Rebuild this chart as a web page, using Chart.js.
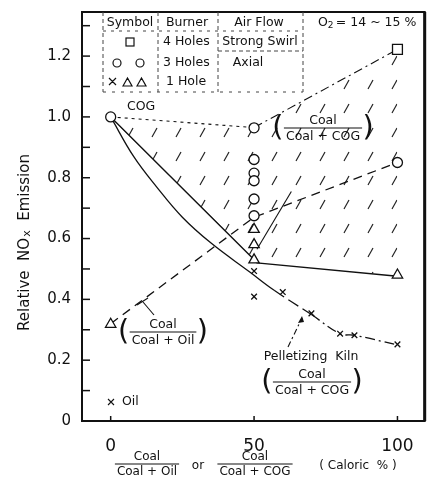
<!DOCTYPE html>
<html>
<head>
<meta charset="utf-8">
<script src="https://cdn.jsdelivr.net/npm/chart.js@4.4.0/dist/chart.umd.min.js"></script>
<style>
  html, body { margin: 0; padding: 0; background: #fff; }
</style>
</head>
<body>
<canvas id="chart" width="433" height="481"></canvas>
<script>
// Relative NOx emission vs coal share (caloric %)
const xTicks = [0, 50, 100];
const yTicks = [0, 0.2, 0.4, 0.6, 0.8, 1.0, 1.2];

// envelope of the coal + COG runs (hatched band)
const cogUpper = [{x: 0, y: 1.0}, {x: 50, y: 0.965}, {x: 100, y: 1.222}];
const cogLower = [{x: 0, y: 1.0}, {x: 49, y: 0.54}, {x: 51, y: 0.52}, {x: 100, y: 0.476}];

// coal + oil line on to the 3-hole axial point
const oilLine = [{x: 0, y: 0.32}, {x: 50, y: 0.67}, {x: 100, y: 0.85}];
const steepLine = [{x: 51, y: 0.565}, {x: 63, y: 0.755}];

// pelletizing kiln curve
const kilnCurve = [
  {x: 0, y: 1.0}, {x: 8, y: 0.87}, {x: 16, y: 0.77}, {x: 25, y: 0.67},
  {x: 35, y: 0.585}, {x: 48.5, y: 0.49}, {x: 57, y: 0.43}, {x: 70, y: 0.35},
  {x: 80, y: 0.287}, {x: 85, y: 0.282}, {x: 100, y: 0.25}
];

// measured points
const squares = [{x: 100, y: 1.222}];
const circles = [
  {x: 0, y: 1.0}, {x: 50, y: 0.964}, {x: 50, y: 0.86}, {x: 50, y: 0.815},
  {x: 50, y: 0.79}, {x: 50, y: 0.73}, {x: 50, y: 0.675}, {x: 100, y: 0.85}
];
const triangles = [
  {x: 0, y: 0.318}, {x: 50, y: 0.63}, {x: 50, y: 0.58}, {x: 50, y: 0.53}, {x: 100, y: 0.48}
];
const crosses = [
  {x: 50, y: 0.493}, {x: 50, y: 0.409}, {x: 60, y: 0.424}, {x: 70, y: 0.354},
  {x: 80, y: 0.287}, {x: 85, y: 0.282}, {x: 100, y: 0.252}
];

const INK = '#111';
const FONT = '"DejaVu Sans", "Liberation Sans", sans-serif';

// sparse slash hatching for the COG band
function makeHatch() {
    const c = document.createElement('canvas');
    c.width = 24; c.height = 24;
    const g = c.getContext('2d');
    g.strokeStyle = '#222';
    g.lineWidth = 1.2;
    g.beginPath();
    g.moveTo(8, 17);
    g.lineTo(13, 8);
    g.stroke();
    return g.createPattern(c, 'repeat');
}

function pts(data, style, radius) {
    return {
        data: data, showLine: false, pointStyle: style, pointRadius: radius,
        pointHoverRadius: radius, borderColor: INK, backgroundColor: '#fff',
        pointBorderWidth: 1.3
    };
}

function line(data, dash, width) {
    return {
        data: data, showLine: true, pointRadius: 0, borderColor: INK,
        borderWidth: width || 1.3, borderDash: dash || [], fill: false, tension: 0
    };
}

// fraction like  Coal / Coal + COG, optional parentheses
function fraction(ctx, cx, cy, num, den, size, parens) {
    ctx.save();
    ctx.font = size + 'px ' + FONT;
    ctx.textAlign = 'center';
    ctx.textBaseline = 'middle';
    const w = Math.max(ctx.measureText(num).width, ctx.measureText(den).width) + 4;
    ctx.fillText(num, cx, cy - size * 0.62);
    ctx.fillText(den, cx, cy + size * 0.68);
    ctx.lineWidth = 1.2;
    ctx.beginPath();
    ctx.moveTo(cx - w / 2, cy);
    ctx.lineTo(cx + w / 2, cy);
    ctx.stroke();
    if (parens) {
        ctx.font = (size * 2.3) + 'px ' + FONT;
        ctx.fillText('(', cx - w / 2 - 6, cy + 1);
        ctx.fillText(')', cx + w / 2 + 6, cy + 1);
    }
    ctx.restore();
}

function dashed(ctx, x1, y1, x2, y2, dash) {
    ctx.setLineDash(dash || [4, 3]);
    ctx.beginPath();
    ctx.moveTo(x1, y1);
    ctx.lineTo(x2, y2);
    ctx.stroke();
    ctx.setLineDash([]);
}

const decor = {
    id: 'decor',
    afterDraw(chart) {
        const ctx = chart.ctx;
        const a = chart.chartArea;
        const xs = chart.scales.x, ys = chart.scales.y;
        ctx.save();
        ctx.strokeStyle = INK;
        ctx.fillStyle = INK;

        // frame
        ctx.lineWidth = 2;
        ctx.strokeRect(a.left, a.top, a.right - a.left, a.bottom - a.top);
        ctx.lineWidth = 3;
        ctx.beginPath(); ctx.moveTo(a.right, a.top); ctx.lineTo(a.right, a.bottom); ctx.stroke();

        // inward ticks
        ctx.lineWidth = 1.5;
        for (let v = 0.1; v < 1.34; v += 0.1) {
            const py = ys.getPixelForValue(v);
            ctx.beginPath(); ctx.moveTo(a.left, py); ctx.lineTo(a.left + 8, py); ctx.stroke();
        }
        xTicks.forEach(v => {
            const px = xs.getPixelForValue(v);
            ctx.beginPath(); ctx.moveTo(px, a.bottom); ctx.lineTo(px, a.bottom - 5); ctx.stroke();
        });

        // symbol table
        ctx.lineWidth = 1;
        ctx.strokeStyle = '#444';
        dashed(ctx, 103, 12, 103, 92);
        dashed(ctx, 158, 12, 158, 92);
        dashed(ctx, 218, 12, 218, 92);
        dashed(ctx, 303, 12, 303, 92);
        dashed(ctx, 103, 31, 303, 31, [3, 5]);
        dashed(ctx, 218, 51, 303, 51);
        dashed(ctx, 103, 92, 303, 92, [3, 6]);
        ctx.strokeStyle = INK;

        ctx.font = '12.5px ' + FONT;
        ctx.textBaseline = 'middle';
        ctx.textAlign = 'center';
        ctx.fillText('Symbol', 130, 23);
        ctx.fillText('Burner', 187, 23);
        ctx.fillText('Air Flow', 259, 23);
        ctx.fillText('Strong Swirl', 260, 42);
        ctx.fillText('Axial', 248, 63);
        ctx.textAlign = 'left';
        ctx.fillText('4 Holes', 163, 42);
        ctx.fillText('3 Holes', 163, 63);
        ctx.fillText('1 Hole', 166, 82);
        // O2 = 14 ~ 15 %
        ctx.fillText('O', 318, 23);
        const ow = ctx.measureText('O').width;
        ctx.font = '9px ' + FONT;
        ctx.fillText('2', 318 + ow, 26);
        ctx.font = '12.5px ' + FONT;
        ctx.fillText('= 14 ~ 15 %', 318 + ow + 8, 23);

        // table symbols
        ctx.lineWidth = 1.2;
        ctx.strokeRect(126, 38, 8, 8);
        ctx.beginPath(); ctx.arc(117, 63, 4, 0, Math.PI * 2); ctx.stroke();
        ctx.beginPath(); ctx.arc(140, 63, 4, 0, Math.PI * 2); ctx.stroke();
        ctx.beginPath();
        ctx.moveTo(109, 78); ctx.lineTo(116, 85); ctx.moveTo(116, 78); ctx.lineTo(109, 85);
        ctx.moveTo(123, 86); ctx.lineTo(127.5, 78); ctx.lineTo(132, 86); ctx.closePath();
        ctx.moveTo(137, 86); ctx.lineTo(141.5, 78); ctx.lineTo(146, 86); ctx.closePath();
        ctx.stroke();

        // labels inside the plot
        ctx.font = '12.5px ' + FONT;
        ctx.textAlign = 'left';
        ctx.fillText('COG', 127, 107);
        fraction(ctx, 323, 128, 'Coal', 'Coal + COG', 12.5, true);
        fraction(ctx, 163, 332, 'Coal', 'Coal + Oil', 12.5, true);
        ctx.font = '12.5px ' + FONT;
        ctx.textAlign = 'center';
        ctx.fillText('Pelletizing  Kiln', 311, 357);
        fraction(ctx, 312, 382, 'Coal', 'Coal + COG', 12.5, true);

        // leaders
        ctx.lineWidth = 1.1;
        ctx.beginPath(); ctx.moveTo(143, 302); ctx.lineTo(154, 315); ctx.stroke();
        ctx.beginPath(); ctx.moveTo(137, 305); ctx.lineTo(148, 298); ctx.stroke();
        dashed(ctx, 288, 347, 302, 318, [6, 3, 2, 3]);
        ctx.beginPath(); ctx.moveTo(302, 316); ctx.lineTo(298, 323); ctx.lineTo(304, 322); ctx.closePath(); ctx.fill();

        // x Oil
        ctx.textAlign = 'left';
        ctx.font = '12.5px ' + FONT;
        ctx.beginPath();
        ctx.moveTo(108, 399); ctx.lineTo(114, 405); ctx.moveTo(114, 399); ctx.lineTo(108, 405);
        ctx.stroke();
        ctx.fillText('Oil', 122, 402);

        // x axis title
        fraction(ctx, 147, 464, 'Coal', 'Coal + Oil', 12, false);
        ctx.font = '12px ' + FONT;
        ctx.textAlign = 'center';
        ctx.fillText('or', 198, 466);
        fraction(ctx, 255, 464, 'Coal', 'Coal + COG', 12, false);
        ctx.font = '12px ' + FONT;
        ctx.textAlign = 'center';
        ctx.fillText('( Caloric  % )', 358, 466);

        // y axis title with subscript-size x
        ctx.translate(25, 243);
        ctx.rotate(-Math.PI / 2);
        ctx.textAlign = 'left';
        ctx.textBaseline = 'middle';
        const p1 = 'Relative  NO', p3 = '  Emission';
        ctx.font = '15px ' + FONT;
        const w1 = ctx.measureText(p1).width, w3 = ctx.measureText(p3).width;
        ctx.font = '11px ' + FONT;
        const w2 = ctx.measureText('x').width;
        const start = -(w1 + w2 + w3) / 2;
        ctx.font = '15px ' + FONT;
        ctx.fillText(p1, start, 0);
        ctx.font = '11px ' + FONT;
        ctx.fillText('x', start + w1 + 1, 2);
        ctx.font = '15px ' + FONT;
        ctx.fillText(p3, start + w1 + w2 + 1, 0);
        ctx.restore();
    }
};

const hatch = makeHatch();

const kilnDs = line(kilnCurve, [], 1.3);
kilnDs.tension = 0.4;
kilnDs.segment = {
    borderDash: c => c.p0DataIndex < 6 ? [] : (c.p0DataIndex === 6 ? [12, 5] : [10, 4, 2, 4])
};

const upperDs = line(cogUpper, [], 1.1);
upperDs.segment = {
    borderDash: c => c.p0DataIndex === 0 ? [3, 4] : [9, 4, 2, 4]
};
upperDs.fill = 8;
upperDs.backgroundColor = hatch;

new Chart(document.getElementById('chart'), {
    type: 'line',
    data: {
        datasets: [
            pts(circles, 'circle', 5),
            pts(triangles, 'triangle', 6),
            pts(squares, 'rect', 7),
            pts(crosses, 'crossRot', 4),
            line(oilLine, [9, 6], 1.3),
            kilnDs,
            line(steepLine, [], 1.1),
            upperDs,
            line(cogLower, [], 1.4)
        ]
    },
    options: {
        responsive: false,
        animation: false,
        layout: { padding: { top: 12, right: 5, bottom: 0, left: 0 } },
        plugins: { legend: { display: false }, tooltip: { enabled: false } },
        scales: {
            x: {
                type: 'linear', min: -10, max: 109.5,
                afterFit: s => { s.height = 60; s.paddingLeft = 0; s.paddingRight = 0; },
                afterBuildTicks: s => { s.ticks = xTicks.map(v => ({value: v})); },
                grid: { display: false, drawTicks: false },
                border: { display: false },
                ticks: { padding: 15, color: INK, font: { family: FONT, size: 17 } }
            },
            y: {
                type: 'linear', min: 0, max: 1.345,
                afterFit: s => { s.width = 82; s.paddingTop = 0; s.paddingBottom = 0; },
                afterBuildTicks: s => { s.ticks = yTicks.map(v => ({value: v})); },
                grid: { display: false, drawTicks: false },
                border: { display: false },
                ticks: {
                    padding: 11, color: INK, font: { family: FONT, size: 15 },
                    callback: v => v === 0 ? '0' : v.toFixed(1)
                }
            }
        }
    },
    plugins: [decor]
});
</script>
</body>
</html>
